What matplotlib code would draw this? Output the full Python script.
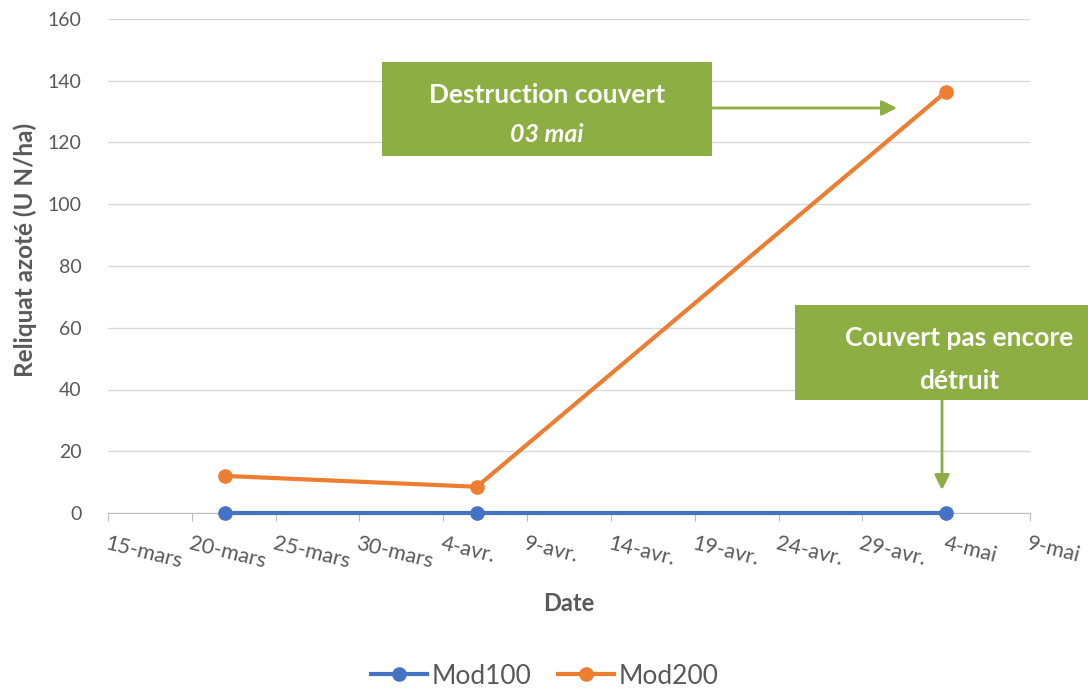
import matplotlib
matplotlib.use("Agg")
import matplotlib.pyplot as plt
import pandas as pd
from matplotlib.patches import Rectangle

# ---- data ----
dates = ["2021-03-22", "2021-04-06", "2021-05-04"]
mod100 = [0, 0, 0]
mod200 = [12, 8.5, 136.5]
tick_dates = ["2021-03-15", "2021-03-20", "2021-03-25", "2021-03-30", "2021-04-04",
              "2021-04-09", "2021-04-14", "2021-04-19", "2021-04-24", "2021-04-29",
              "2021-05-04", "2021-05-09"]
tick_labels = ["15-mars", "20-mars", "25-mars", "30-mars", "4-avr.", "9-avr.",
               "14-avr.", "19-avr.", "24-avr.", "29-avr.", "4-mai", "9-mai"]
y_ticks = [0, 20, 40, 60, 80, 100, 120, 140, 160]

plt.rcParams['font.family'] = ['Lato', 'DejaVu Sans']
TXT = '#595959'
GREEN = '#8DAE43'

x = pd.to_datetime(dates)
xt = pd.to_datetime(tick_dates)

fig = plt.figure(figsize=(10.88, 6.89), dpi=100)
ax = fig.add_axes([108/1088, 1-513/689, (1030-108)/1088, (513-19)/689])

ax.plot(x, mod100, color='#4472C4', lw=3, marker='o', ms=9.5, label='Mod100', zorder=3, clip_on=False)
ax.plot(x, mod200, color='#ED7D31', lw=3, marker='o', ms=9.5, label='Mod200', zorder=3, clip_on=False)

ax.set_xlim(xt[0], xt[-1])
ax.set_ylim(0, 160)
ax.set_yticks(y_ticks)
ax.set_xticks(xt)
ax.set_xticklabels(tick_labels, rotation=-14, ha='left', va='top', rotation_mode='anchor')
for lab in ax.get_xticklabels():
    lab.set_fontsize(15.5)
    lab.set_color(TXT)
ax.tick_params(axis='x', length=6, color='#BFBFBF', pad=9)
ax.tick_params(axis='y', length=0, labelsize=14, labelcolor=TXT, pad=19)
ax.grid(axis='y', color='#D9D9D9', lw=1)
ax.set_axisbelow(True)
for s in ['top', 'right', 'left']:
    ax.spines[s].set_visible(False)
ax.spines['bottom'].set_color('#BFBFBF')

ax.set_ylabel('Reliquat azoté (U N/ha)', fontsize=17.5, fontweight='bold', color=TXT)
ax.yaxis.set_label_coords(-0.077, 0.532)
ax.set_xlabel('Date', fontsize=17, fontweight='bold', color=TXT, labelpad=14)

# ---- annotation boxes (pixel placement via figure fraction) ----
def fx(px): return px/1088
def fy(py): return 1-py/689

fig.patches.append(Rectangle((fx(382), fy(156)), fx(712)-fx(382), fy(62)-fy(156),
                             transform=fig.transFigure, facecolor=GREEN, edgecolor='none', zorder=5))
fig.text(fx(547), fy(95), 'Destruction couvert', color='white', fontsize=19, fontweight='bold',
         ha='center', va='center', zorder=6)
fig.text(fx(547), fy(134), '03 mai', color='white', fontsize=18, fontweight='bold', style='italic',
         ha='center', va='center', zorder=6)
fig.patches.append(Rectangle((fx(795), fy(400)), fx(1088)-fx(795), fy(305)-fy(400),
                             transform=fig.transFigure, facecolor=GREEN, edgecolor='none', zorder=5))
fig.text(fx(959), fy(338), 'Couvert pas encore', color='white', fontsize=19, fontweight='bold',
         ha='center', va='center', zorder=6)
fig.text(fx(959), fy(381), 'détruit', color='white', fontsize=19, fontweight='bold',
         ha='center', va='center', zorder=6)

ax.annotate('', xy=(fx(897), fy(108)), xytext=(fx(712), fy(108)), xycoords='figure fraction',
            textcoords='figure fraction',
            arrowprops=dict(arrowstyle='-|>,head_length=0.9,head_width=0.45', color=GREEN, lw=2, shrinkA=0, shrinkB=0))
ax.annotate('', xy=(fx(942), fy(490)), xytext=(fx(942), fy(400)), xycoords='figure fraction',
            textcoords='figure fraction',
            arrowprops=dict(arrowstyle='-|>,head_length=0.9,head_width=0.45', color=GREEN, lw=2, shrinkA=0, shrinkB=0))

leg = fig.legend(loc='center', bbox_to_anchor=(fx(545), fy(676)), ncol=2, frameon=False,
                 fontsize=19, handlelength=2.1, columnspacing=1.0, handletextpad=0.2)
for t in leg.get_texts():
    t.set_color(TXT)

fig.savefig('out.png', dpi=100)
